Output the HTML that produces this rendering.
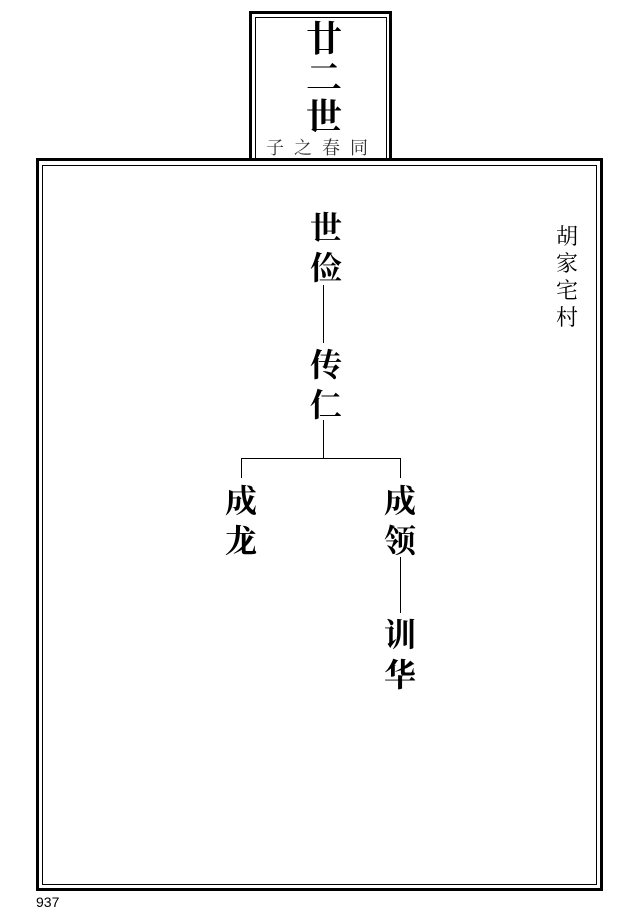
<!DOCTYPE html>
<html><head><meta charset="utf-8"><style>
body{margin:0;width:639px;height:913px;background:#fff;position:relative;overflow:hidden;font-family:"Liberation Serif","Noto Serif CJK SC",serif}
.a{position:absolute}
.b{position:absolute;background:#000}
.n{position:absolute;font-weight:bold;font-size:32px;line-height:40px;width:40px;text-align:center;color:#000}
</style></head><body>
<div class="a" style="left:249px;top:11px;width:137px;height:147px;border:3px solid #000;border-bottom:none"></div>
<div class="a" style="left:255px;top:17px;width:130px;height:141px;border:1px solid #000;border-bottom:none"></div>
<div class="a" style="left:36px;top:158px;width:561px;height:727px;border:3px solid #000"></div>
<div class="a" style="left:42px;top:165px;width:553px;height:718px;border:1px solid #000"></div>
<div class="a" style="left:300px;top:20px;width:48px;text-align:center;font-weight:bold;font-size:36px;line-height:39px">廿<br>二<br>世</div>
<div class="a" style="left:262px;top:134px;width:120px;text-align:center;font-size:18px;letter-spacing:10px;color:#333">子之春同</div>
<div class="n" style="left:306px;top:208px">世<br>俭</div>
<div class="b" style="left:323px;top:285px;width:1px;height:58px"></div>
<div class="n" style="left:306px;top:345px">传<br>仁</div>
<div class="b" style="left:323px;top:420px;width:1px;height:38px"></div>
<div class="b" style="left:241px;top:458px;width:160px;height:1px"></div>
<div class="b" style="left:241px;top:458px;width:1px;height:20px"></div>
<div class="b" style="left:400px;top:458px;width:1px;height:20px"></div>
<div class="n" style="left:221px;top:481px">成<br>龙</div>
<div class="n" style="left:380px;top:481px">成<br>领</div>
<div class="b" style="left:400px;top:557px;width:1px;height:56px"></div>
<div class="n" style="left:380px;top:615px">训<br>华</div>
<div class="a" style="left:554px;top:222px;width:26px;text-align:center;font-family:'Noto Serif CJK SC',serif;font-size:22px;line-height:27px">胡<br>家<br>宅<br>村</div>
<div class="a" style="left:36px;top:893px;font-family:'Liberation Sans',sans-serif;font-size:14px;line-height:18px">937</div>
</body></html>
